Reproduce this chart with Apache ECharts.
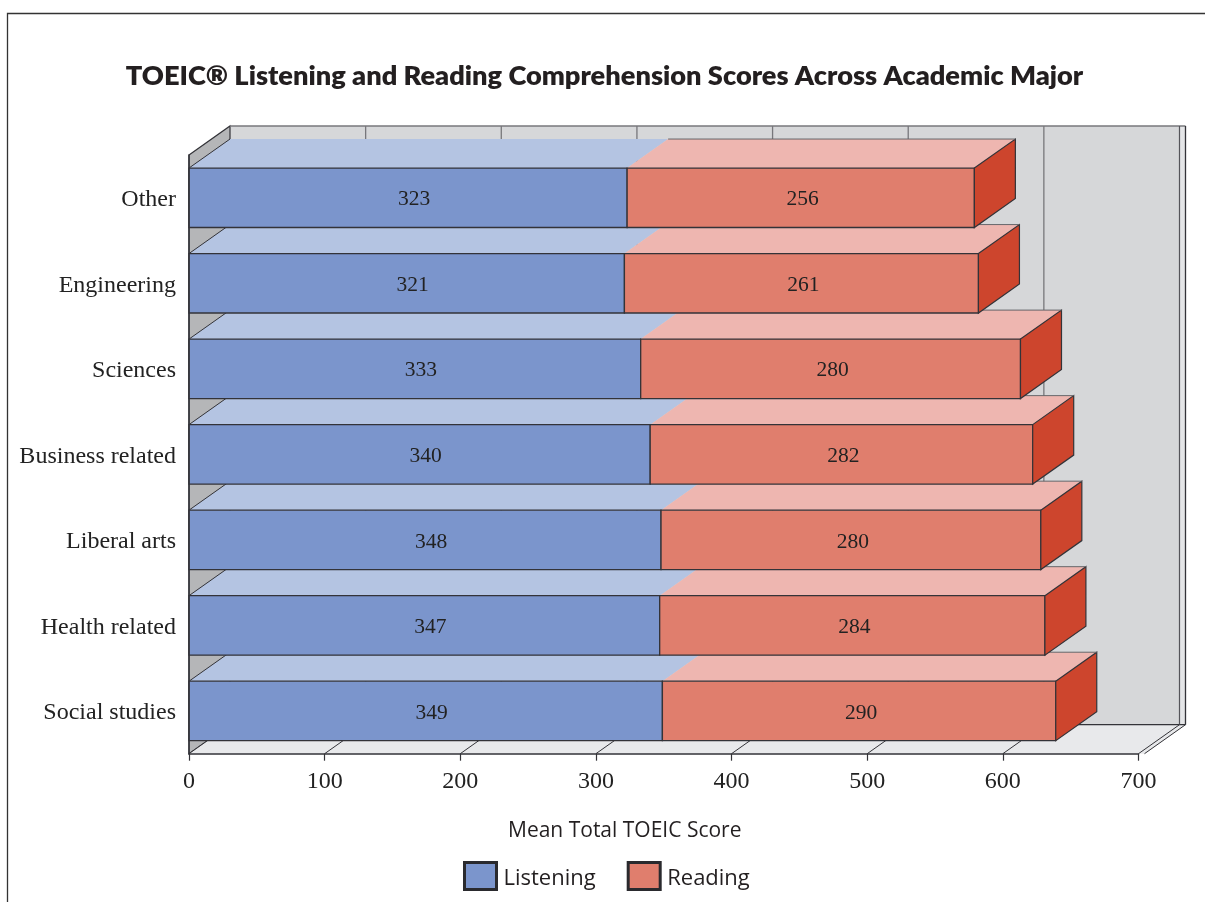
<!DOCTYPE html>
<html>
<head>
<meta charset="utf-8">
<style>html,body{margin:0;padding:0;background:#fff}#c{width:1205px;height:902px}</style>
<script src="https://cdn.jsdelivr.net/npm/echarts@6/dist/echarts.min.js"></script>
</head>
<body>
<div id="c"></div>
<script>
const categories = ['Social studies','Health related','Liberal arts','Business related','Sciences','Engineering','Other'];
const listening = [349,347,348,340,333,321,323];
const reading = [290,284,280,282,280,261,256];
const xTicks = [0,100,200,300,400,500,600,700];

const DX = 41, DY = 29, BAR = 0.695, INK = '#333338';
const serif = '"Liberation Serif", serif';
const sans = '"Open Sans", sans-serif';

const chart = echarts.init(document.getElementById('c'));

function wallItem(params, api) {
  const c = params.coordSys;
  const L = c.x, R = c.x + c.width, T = c.y, B = c.y + c.height;
  const kids = [];
  const poly = (pts, fill, stroke, lw) => kids.push({type:'polygon', shape:{points:pts}, style:{fill, stroke:stroke||'none', lineWidth:lw||1}});
  const line = (x1,y1,x2,y2,stroke,lw) => kids.push({type:'line', shape:{x1,y1,x2,y2}, style:{stroke, lineWidth:lw||1}});
  poly([[L+DX,T-DY],[R+DX+6,T-DY],[R+DX+6,B-DY],[L+DX,B-DY]], '#d6d7d9');
  poly([[L,T],[L+DX,T-DY],[L+DX,B-DY],[L,B]], '#b5b6b8', INK, 1.2);
  poly([[L,B],[R,B],[R+DX,B-DY],[L+DX,B-DY]], '#e8e9eb');
  poly([[R,B],[R+6,B],[R+DX+6,B-DY],[R+DX,B-DY]], '#e8e9eb');
  poly([[R+DX,T-DY],[R+DX+6,T-DY],[R+DX+6,B-DY],[R+DX,B-DY]], '#e4e5e7');
  xTicks.forEach((t, i) => {
    const x = api.coord([t, 0])[0];
    if (i > 0 && i < xTicks.length - 1) line(x + DX, T - DY, x + DX, B - DY, '#77777b', 1.3);
    if (i < xTicks.length - 1) line(x, B, x + DX, B - DY, INK, 1);
  });
  line(L+DX,T-DY,R+DX+6,T-DY,'#77777b',1.5);
  line(L+DX,B-DY,R+DX+6,B-DY,INK,1.3);
  line(R+DX,T-DY,R+DX,B-DY,'#55555a',1.2);
  line(R+DX+6,T-DY,R+DX+6,B-DY,INK,1.3);
  line(R,B,R+DX,B-DY,INK,1);
  line(R+6,B,R+DX+6,B-DY,INK,1);
  return {type:'group', children:kids};
}

function barItem(front, top, side, labelShift) {
  return function (params, api) {
    const cat = api.value(0), start = api.value(1), val = api.value(2);
    const a = api.coord([start, cat]), b = api.coord([start + val, cat]);
    const h = api.size([0, 1])[1] * BAR;
    const x0 = a[0], x1 = b[0], y0 = a[1] - h / 2, y1 = a[1] + h / 2;
    const kids = [
      {type:'polygon', shape:{points:[[x0,y0],[x1,y0],[x1+DX,y0-DY],[x0+DX,y0-DY]]}, style:{fill:top}},
      {type:'line', shape:{x1:x0,y1:y0,x2:x0+DX,y2:y0-DY}, style:{stroke: start === 0 ? INK : 'none', lineWidth:1}},
      {type:'rect', shape:{x:x0,y:y0,width:x1-x0,height:y1-y0}, style:{fill:front, stroke:INK, lineWidth:1.3}}
    ];
    if (side) {
      kids.push({type:'polygon', shape:{points:[[x1,y0],[x1+DX,y0-DY],[x1+DX,y1-DY],[x1,y1]]}, style:{fill:side, stroke:INK, lineWidth:1.2}});
      kids.push({type:'line', shape:{x1:x0+DX,y1:y0-DY,x2:x1+DX,y2:y0-DY}, style:{stroke:'#66666a', lineWidth:1}});
    }
    kids.push({type:'text', style:{text:String(val), x:(x0+x1)/2+labelShift, y:a[1]+2, align:'center', verticalAlign:'middle', fill:'#222', font:'21.5px '+serif}});
    return {type:'group', children:kids};
  };
}

chart.setOption({
  animation:false,
  backgroundColor:'#fff',
  title:{text:'TOEIC® Listening and Reading Comprehension Scores Across Academic Major', left:599.5, textAlign:'center', top:58,
    textStyle:{fontFamily:'Lato, sans-serif', fontWeight:800, fontSize:27.2, color:'#231f20'}},
  graphic:[{type:'polyline', shape:{points:[[7.5,902],[7.5,13.5],[1205,13.5]]}, style:{fill:'none', stroke:'#333', lineWidth:1.3}}],
  legend:{left:458, top:856, itemWidth:32, itemHeight:27, itemGap:31, icon:'rect',
    formatter:'{n|{name}}',
    textStyle:{rich:{n:{fontFamily:sans, fontSize:22, color:'#231f20', padding:[6,0,0,2]}}},
    data:[{name:'Listening', itemStyle:{color:'#7b95cc', borderColor:'#2a2a2e', borderWidth:3}},
          {name:'Reading', itemStyle:{color:'#e07e6d', borderColor:'#2a2a2e', borderWidth:3}}]},
  grid:{left:189, top:155, width:949.5, height:598.7, containLabel:false},
  xAxis:{type:'value', min:0, max:700, interval:100, z:3,
    name:'Mean Total TOEIC Score', nameLocation:'middle', nameGap:67,
    nameTextStyle:{fontFamily:sans, fontSize:21, color:'#231f20', padding:[0,78,0,0]},
    axisLine:{show:true, lineStyle:{color:INK, width:1.5}},
    axisTick:{show:true, length:7, lineStyle:{color:INK, width:1.2}},
    axisLabel:{margin:16, fontFamily:serif, fontSize:24, color:'#222', formatter:(v)=>String(v)},
    splitLine:{show:false}},
  yAxis:{type:'category', data:categories, z:3,
    axisLine:{show:true, lineStyle:{color:INK, width:1.5}},
    axisTick:{show:false},
    axisLabel:{margin:13, color:'#222', formatter:'{n|{value}}',
      rich:{n:{fontFamily:serif, fontSize:24, color:'#222', padding:[4,0,0,0]}}},
    splitLine:{show:false}},
  series:[
    {type:'custom', name:'walls', z:1, silent:true, clip:false, data:[[0]], renderItem:wallItem, encode:{x:0}},
    {type:'custom', name:'Listening', z:2, clip:false, itemStyle:{color:'#7b95cc'},
      data:categories.map((c,i)=>[i,0,listening[i]]), encode:{y:0,x:2},
      renderItem:barItem('#7b95cc','#b4c4e2',null,6)},
    {type:'custom', name:'Reading', z:2, clip:false, itemStyle:{color:'#e07e6d'},
      data:categories.map((c,i)=>[i,listening[i],reading[i]]), encode:{y:0,x:2},
      renderItem:barItem('#e07e6d','#eeb6b0','#cd452d',2)}
  ]
});
</script>
</body>
</html>
